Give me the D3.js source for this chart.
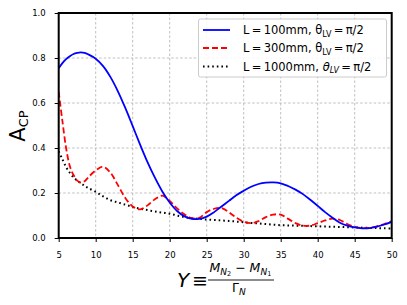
<!DOCTYPE html>
<html>
<head>
<meta charset="utf-8">
<script src="https://cdn.jsdelivr.net/npm/d3@7"></script>
<style>
  html, body { margin: 0; padding: 0; background: #fff; }
  svg { display: block; font-family: "DejaVu Sans", sans-serif; }
</style>
</head>
<body>
<svg id="chart" width="407" height="305"></svg>
<script>
// ---- data ----
const yValues = [5,5.5,6,6.5,7,7.5,8,8.5,9,10,11,12,13,14,15,16,17,18,19,20,21,22,23,24,25,26,27,28,29,30,31,32,33,34,35,36,37,38,39,40,41,42,43,44,45,46,47,48,49,50];
const acpL100 = [0.754,0.777,0.795,0.808,0.818,0.823,0.825,0.823,0.816,0.797,0.764,0.715,0.652,0.578,0.497,0.415,0.337,0.268,0.207,0.158,0.12,0.096,0.085,0.085,0.095,0.115,0.14,0.165,0.19,0.21,0.228,0.24,0.246,0.247,0.243,0.231,0.215,0.195,0.17,0.143,0.115,0.09,0.068,0.055,0.047,0.043,0.044,0.051,0.06,0.072];
const acpL300 = [0.65,0.52,0.40,0.32,0.28,0.255,0.246,0.252,0.27,0.30,0.317,0.29,0.235,0.178,0.14,0.127,0.145,0.172,0.188,0.165,0.132,0.105,0.088,0.09,0.115,0.13,0.133,0.115,0.09,0.072,0.066,0.075,0.093,0.104,0.104,0.085,0.066,0.055,0.055,0.066,0.078,0.086,0.08,0.062,0.05,0.044,0.045,0.052,0.062,0.075];
const acpL1000 = [0.385,0.35,0.315,0.29,0.27,0.255,0.243,0.232,0.222,0.205,0.185,0.168,0.158,0.148,0.138,0.13,0.124,0.118,0.113,0.108,0.1,0.093,0.088,0.085,0.082,0.08,0.078,0.076,0.073,0.07,0.067,0.065,0.062,0.059,0.057,0.056,0.055,0.054,0.053,0.052,0.051,0.05,0.049,0.048,0.047,0.046,0.045,0.044,0.043,0.042];
const xTicks = [5,10,15,20,25,30,35,40,45,50];
const yTicks = [0.0,0.2,0.4,0.6,0.8,1.0];

// ---- layout ----
const svg = d3.select("#chart");
const L = 58.7, R = 391.7, T = 13, B = 238;
const x = d3.scaleLinear().domain([5, 50]).range([L, R]);
const y = d3.scaleLinear().domain([0, 1]).range([B, T]);

// grid
const grid = svg.append("g");
grid.selectAll("line.gx").data(xTicks).enter().append("line")
  .attr("x1", d => x(d)).attr("x2", d => x(d)).attr("y1", T).attr("y2", B)
  .attr("stroke", "#b0b0b0").attr("stroke-width", 0.8).attr("stroke-dasharray", "2.5,2");
grid.selectAll("line.gy").data(yTicks).enter().append("line")
  .attr("x1", L).attr("x2", R).attr("y1", d => y(d)).attr("y2", d => y(d))
  .attr("stroke", "#b0b0b0").attr("stroke-width", 0.8).attr("stroke-dasharray", "2.5,2");

// axes
const xAxis = svg.append("g").attr("transform", `translate(0,${B})`)
  .call(d3.axisBottom(x).tickValues(xTicks).tickFormat(d3.format("d")).tickSize(4).tickPadding(10));
const yAxis = svg.append("g").attr("transform", `translate(${L},0)`)
  .call(d3.axisLeft(y).tickValues(yTicks).tickFormat(d3.format(".1f")).tickSize(4).tickPadding(9));
[xAxis, yAxis].forEach(a => {
  a.select(".domain").remove();
  a.selectAll("text").attr("font-family", "DejaVu Sans").attr("font-size", 8.5).attr("fill", "#000");
  a.selectAll("line").attr("stroke", "#000").attr("stroke-width", 1);
});

// lines
const series = [
  {vals: acpL100, color: "#0000ff", dash: null},
  {vals: acpL300, color: "#ff0000", dash: "6,3"},
  {vals: acpL1000, color: "#000000", dash: "1.6,3"}
];
const line = d3.line().x(d => x(d[0])).y(d => y(d[1])).curve(d3.curveCatmullRom.alpha(0.5));
const clip = svg.append("clipPath").attr("id", "clip").append("rect")
  .attr("x", L).attr("y", T).attr("width", R - L).attr("height", B - T);
series.slice().reverse().forEach(s => {
  svg.append("path").datum(yValues.map((v, i) => [v, s.vals[i]]))
    .attr("d", line).attr("fill", "none").attr("stroke", s.color)
    .attr("stroke-width", s.dash === "1.6,3" ? 2 : 1.8)
    .attr("stroke-dasharray", s.dash)
    .attr("clip-path", "url(#clip)");
});

// frame
svg.append("rect").attr("x", L).attr("y", T).attr("width", R - L).attr("height", B - T)
  .attr("fill", "none").attr("stroke", "#000").attr("stroke-width", 2);

// legend
const lg = svg.append("g");
lg.append("rect").attr("x", 198.5).attr("y", 19).attr("width", 188).attr("height", 58).attr("rx", 2)
  .attr("fill", "#fff").attr("fill-opacity", 0.85).attr("stroke", "#cccccc").attr("stroke-width", 1);
const rowsY = [30, 48, 66.5];
const labels = [
  {pre: "L\u2009=\u2009100mm, ", theta: "\u03B8", sub: "LV", post: "\u2009=\u2009\u03C0/2", italic: false},
  {pre: "L\u2009=\u2009300mm, ", theta: "\u03B8", sub: "LV", post: "\u2009=\u2009\u03C0/2", italic: false},
  {pre: "L\u2009=\u20091000mm, ", theta: "\u03B8", sub: "LV", post: "\u2009=\u2009\u03C0/2", italic: true}
];
series.forEach((s, i) => {
  lg.append("line").attr("x1", 203).attr("x2", 230).attr("y1", rowsY[i]).attr("y2", rowsY[i])
    .attr("stroke", s.color).attr("stroke-width", s.dash === "1.6,3" ? 2 : 1.8).attr("stroke-dasharray", s.dash);
  const t = lg.append("text").attr("x", 243).attr("y", rowsY[i] + 4.2)
    .attr("font-size", 11.5).attr("fill", "#000");
  t.append("tspan").text(labels[i].pre);
  t.append("tspan").text(labels[i].theta).attr("font-style", labels[i].italic ? "italic" : "normal");
  t.append("tspan").text(labels[i].sub).attr("font-size", 8).attr("dy", 2.5)
    .attr("font-style", labels[i].italic ? "italic" : "normal");
  t.append("tspan").text(labels[i].post).attr("dy", -2.5);
});

// y label
const yl = svg.append("text").attr("transform", "translate(25,126) rotate(-90)")
  .attr("text-anchor", "middle").attr("fill", "#000");
yl.append("tspan").text("A").attr("font-size", 21);
yl.append("tspan").text("CP").attr("font-size", 13).attr("dy", 3);

// x label: Y ≡ (M_N2 − M_N1) / Γ_N
const xl = svg.append("g").attr("fill", "#000");
xl.append("text").attr("x", 177).attr("y", 287).attr("font-size", 20).attr("font-style", "italic").text("Y");
xl.append("text").attr("x", 192).attr("y", 287).attr("font-size", 19).text("\u2261");
xl.append("line").attr("x1", 208).attr("x2", 274).attr("y1", 280).attr("y2", 280)
  .attr("stroke", "#000").attr("stroke-width", 0.9);
const num = xl.append("text").attr("x", 209.5).attr("y", 272).attr("font-size", 12.5);
num.append("tspan").text("M").attr("font-style", "italic");
num.append("tspan").text("N").attr("font-style", "italic").attr("font-size", 9).attr("dy", 2.5);
num.append("tspan").text("2").attr("font-size", 6.5).attr("dy", 1.5);
num.append("tspan").text(" \u2212 ").attr("dy", -4);
num.append("tspan").text("M").attr("font-style", "italic");
num.append("tspan").text("N").attr("font-style", "italic").attr("font-size", 9).attr("dy", 2.5);
num.append("tspan").text("1").attr("font-size", 6.5).attr("dy", 1.5);
const den = xl.append("text").attr("x", 232).attr("y", 292).attr("font-size", 12.5);
den.append("tspan").text("\u0393");
den.append("tspan").text("N").attr("font-style", "italic").attr("font-size", 9).attr("dy", 2.5);
</script>
</body>
</html>
